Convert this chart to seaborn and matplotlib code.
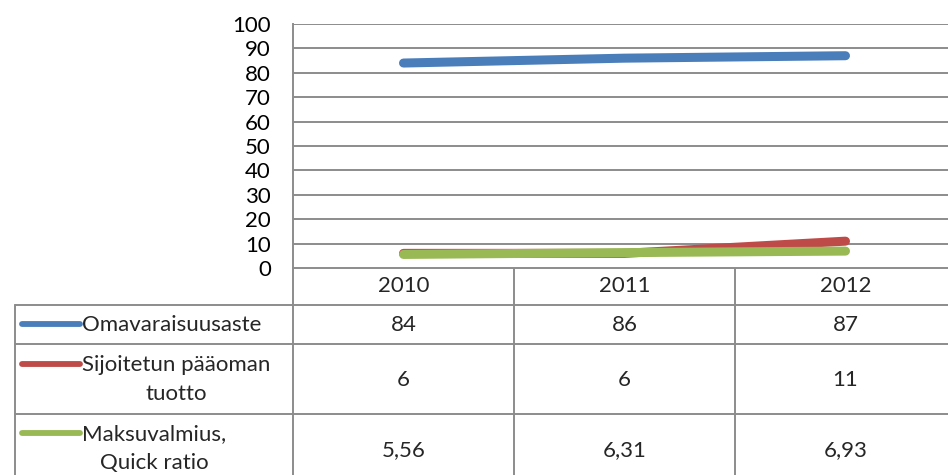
import pandas as pd
import matplotlib
matplotlib.use("Agg")
import matplotlib.pyplot as plt
import seaborn as sns

# data
years = ["2010", "2011", "2012"]
omavaraisuusaste = [84, 86, 87]
sijoitetun_tuotto = [6, 6, 11]
maksuvalmius = [5.56, 6.31, 6.93]

series_names = ["Omavaraisuusaste", "Sijoitetun pääoman tuotto", "Maksuvalmius, Quick ratio"]
table_labels = ["Omavaraisuusaste", "Sijoitetun pääoman\ntuotto", "Maksuvalmius,\nQuick ratio"]
decimals = [0, 0, 2]
colors = ["#4a7ebb", "#be4b48", "#98b954"]


def main():
    sns.set_style("white")
    plt.rcParams['font.family'] = ['Lato', 'DejaVu Sans']
    fs = 16

    df = pd.DataFrame({
        "vuosi": years * 3,
        "arvo": omavaraisuusaste + sijoitetun_tuotto + maksuvalmius,
        "sarja": [s for s in series_names for _ in years],
    })
    df["x"] = df["vuosi"].map({y: i for i, y in enumerate(years)})

    W, H = 948, 475
    fig = plt.figure(figsize=(W / 100, H / 100), dpi=100)

    # pixel layout (from the picture)
    left, top, zero = 293, 24, 268
    col_w = 221
    right = left + col_w * len(years)
    grid_c = "#8c8c8c"

    ax = fig.add_axes([left / W, 1 - zero / H, (right - left) / W, (zero - top) / H])
    sns.lineplot(data=df, x="x", y="arvo", hue="sarja", palette=colors, ax=ax,
                 linewidth=6.5, legend=False, solid_capstyle="round")
    ax.set_xlim(-0.5, len(years) - 0.5)
    ax.set_ylim(0, 100)
    ax.set_yticks(range(0, 101, 10))
    ax.set_xticks([])
    ax.set_xlabel("")
    ax.set_ylabel("")
    ax.grid(axis="y", color=grid_c, linewidth=1.4)
    ax.set_axisbelow(True)
    for s in ["top", "right", "bottom"]:
        ax.spines[s].set_visible(False)
    ax.spines["left"].set_color(grid_c)
    ax.spines["left"].set_linewidth(1.4)
    ax.tick_params(axis="y", length=0, pad=16, labelsize=fs, colors="black")

    # data table drawn on an overlay axes in pixel coordinates
    tab = fig.add_axes([0, 0, 1, 1], zorder=-1)
    tab.set_xlim(0, W)
    tab.set_ylim(H, 0)
    tab.axis("off")
    rows = [268, 305, 344, 414]
    bottom = 490
    lab_left = 15
    kw = dict(color=grid_c, linewidth=1.4)
    tab.plot([left, right], [rows[0], rows[0]], **kw)
    for y in rows[1:]:
        tab.plot([lab_left, right], [y, y], **kw)
    tab.plot([lab_left, lab_left], [rows[1], bottom], **kw)
    for i in range(len(years) + 1):
        x = left + i * col_w
        tab.plot([x, x], [rows[0], bottom], **kw)

    centers = [left + col_w * (i + 0.5) for i in range(len(years))]
    for c, yr in zip(centers, years):
        tab.text(c, 286, yr, ha="center", va="center", fontsize=fs)

    all_vals = [omavaraisuusaste, sijoitetun_tuotto, maksuvalmius]
    row_mid = [325, 380, 450]
    first_line = [324, 364, 433]
    for r in range(3):
        tab.plot([22, 80], [first_line[r], first_line[r]], color=colors[r],
                 linewidth=4.2, solid_capstyle="round")
        tab.text(82, first_line[r] - 9, table_labels[r], ha="left", va="top",
                 fontsize=fs, multialignment="center", linespacing=1.55)
        for c, v in zip(centers, all_vals[r]):
            txt = f"{v:.{decimals[r]}f}".replace(".", ",")
            tab.text(c, row_mid[r], txt, ha="center", va="center", fontsize=fs)

    fig.savefig("out.png", dpi=100)


if __name__ == "__main__":
    main()
